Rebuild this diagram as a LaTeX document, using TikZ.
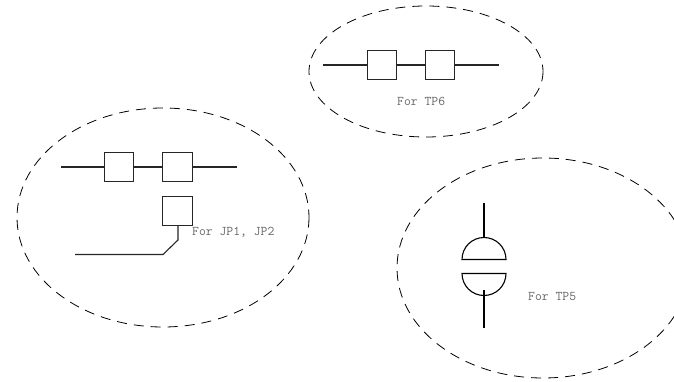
\documentclass[tikz,border=0pt]{standalone}
\tikzset{
  zone/.style={draw=black,line width=0.8pt,dash pattern=on 10pt off 7pt,fill=none},
  wire/.style={draw=black!85,line width=1.1pt},
  box/.style={draw=black!85,line width=1.1pt,minimum width=29.5pt,minimum height=29.5pt,inner sep=0pt,outer sep=0pt},
  lbl/.style={font=\ttfamily\fontsize{13.3}{14}\selectfont,text=black!60,inner sep=0pt,anchor=west}
}
\begin{document}
\begin{tikzpicture}[x=1pt,y=-1pt]
\useasboundingbox[fill=white] (0,0) rectangle (674,382);
\clip (0,0) rectangle (674,382);
% zones
\draw[zone] (426,71.5) ellipse [x radius=117,y radius=65.5];
\draw[zone] (163,217.5) ellipse [x radius=146,y radius=109.5];
\draw[zone] (543,268) ellipse [x radius=146,y radius=110];
% TP6
\node[box] (a1) at (382,65) {};
\node[box] (a2) at (440,65) {};
\coordinate (al) at (323,65);
\coordinate (ar) at (499,65);
\draw[wire] (al) -- (a1) (a1) -- (a2) (a2) -- (ar);
\node[lbl] (t6) at (397,101) {For TP6};
% JP1 JP2
\node[box] (b1) at (119,167) {};
\node[box] (b2) at (177.5,167) {};
\coordinate (bl) at (61,167);
\coordinate (br) at (237,167);
\draw[wire] (bl) -- (b1) (b1) -- (b2) (b2) -- (br);
\node[box] (c) at (177.5,211) {};
\coordinate (c1) at (178,240);
\coordinate (c2) at (163,254.5);
\coordinate (c3) at (75,254.5);
\draw[wire] (c.south -| c1) -- (c1) -- (c2) -- (c3);
\node[lbl] (t1) at (192,232.5) {For JP1, JP2};
% TP5
\coordinate (d1) at (484,203);
\coordinate (d2) at (484,238);
\coordinate (d3) at (484,290);
\coordinate (d4) at (484,328);
\coordinate (e1) at (462,259.5);
\coordinate (e2) at (506,259.5);
\coordinate (f1) at (462,273.5);
\coordinate (f2) at (506,273.5);
\draw[wire,black] (d1) -- (d2);
\draw[wire,black] (d3) -- (d4);
\draw[wire,black] (e1) -- (e2) arc [start angle=0,end angle=-180,radius=22] -- cycle;
\draw[wire,black] (f1) -- (f2) arc [start angle=0,end angle=180,radius=22] -- cycle;
\node[lbl] (t5) at (528,297) {For TP5};
\end{tikzpicture}
\end{document}
